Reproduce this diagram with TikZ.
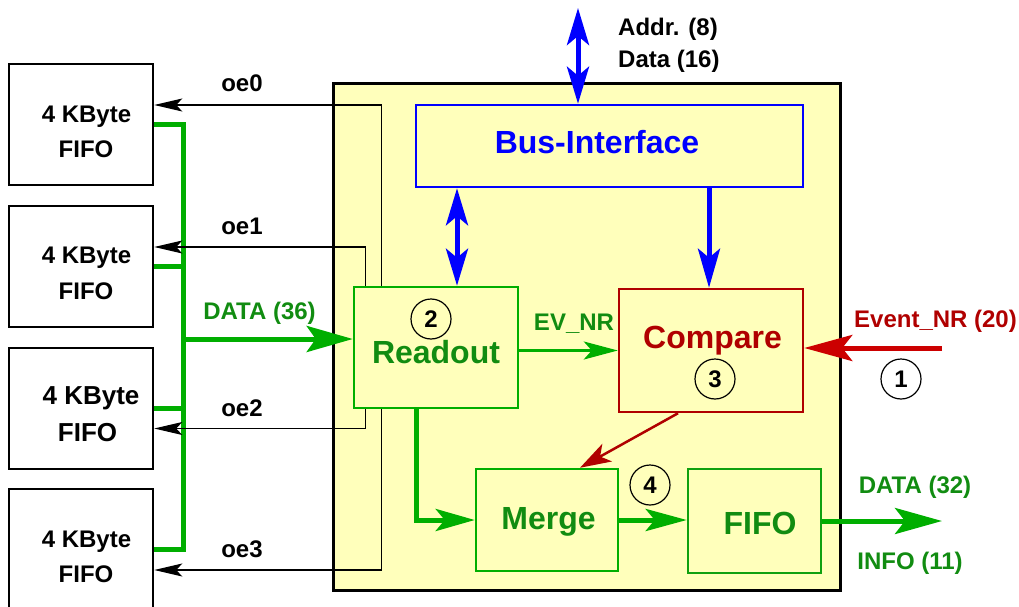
\documentclass[tikz,border=0pt]{standalone}
\usepackage{fontspec}
\setmainfont{Liberation Sans}
\usetikzlibrary{arrows.meta}
\definecolor{bg}{HTML}{FFFFBB}
\definecolor{lgreen}{HTML}{00AE00}
\definecolor{tgreen}{HTML}{118C11}
\definecolor{bgreen}{HTML}{0FA00F}
\definecolor{dred}{HTML}{B00000}
\definecolor{bred}{HTML}{CC0000}
\definecolor{bblue}{HTML}{0000FF}
\begin{document}
\begin{tikzpicture}[x=1pt,y=-1pt,
  font=\fontsize{24}{28}\selectfont\bfseries,
  txt/.style={anchor=base,inner sep=0pt},
  bigtxt/.style={anchor=base,inner sep=0pt,font=\fontsize{32}{36}\selectfont\bfseries},
  fifobox/.style={draw=black,line width=2.5pt,minimum width=144pt,minimum height=121pt,inner sep=0pt,fill=white},
  blockbox/.style={draw,line width=2.5pt,fill=bg,inner sep=0pt},
  num/.style={circle,draw=black,line width=1.2pt,minimum size=40pt,inner sep=0pt},
  oe/.style={draw=black,line width=1.1pt,-{Stealth[length=28pt,width=13pt,inset=6pt]}},
  gbus/.style={draw=lgreen,line width=5pt,line join=miter},
  garrow/.style={draw=lgreen,line width=5pt,line join=miter,-{Stealth[length=46pt,width=26pt,inset=9pt]}},
  gthin/.style={draw=lgreen,line width=2.5pt,-{Stealth[length=34pt,width=18pt,inset=8pt]}},
  barrow/.style={draw=bblue,line width=5pt,{Stealth[length=37pt,width=22pt,inset=9pt]}-{Stealth[length=37pt,width=22pt,inset=9pt]}},
  bsingle/.style={draw=bblue,line width=5pt,-{Stealth[length=39pt,width=22pt,inset=9pt]}},
]
\useasboundingbox (0,0) rectangle (1019,607);

% main chip
\node[draw=black,line width=3pt,fill=bg,minimum width=507pt,minimum height=506pt,inner sep=0pt] (chip) at (586.5,337) {};

% external FIFOs
\node[fifobox] (f0) at (81,124.5) {};
\node[fifobox] (f1) at (81,266.5) {};
\node[fifobox] (f2) at (81,408.5) {};
\node[fifobox] (f3) at (81,549.5) {};
\node[txt] (f0a) at (86.5,122) {4 KByte};
\node[txt] (f0b) at (86,157) {FIFO};
\node[txt] (f1a) at (86.5,263) {4 KByte};
\node[txt] (f1b) at (86,299) {FIFO};
\node[txt,font=\fontsize{26}{30}\selectfont\bfseries] (f2a) at (91,404) {4 KByte};
\node[txt,font=\fontsize{26}{30}\selectfont\bfseries] (f2b) at (87.5,441) {FIFO};
\node[txt] (f3a) at (86.5,547) {4 KByte};
\node[txt] (f3b) at (86,582) {FIFO};

% inner blocks
\node[blockbox,draw=bblue,minimum width=387pt,minimum height=82pt] (bus) at (609.5,146) {};
\node[bigtxt,text=bblue] (bust) at (597,153) {Bus-Interface};
\node[blockbox,draw=lgreen,minimum width=164pt,minimum height=121pt] (readout) at (436,347.5) {};
\node[bigtxt,text=tgreen] (readt) at (436,363) {Readout};
\node[blockbox,draw=dred,minimum width=184pt,minimum height=123pt] (compare) at (711,350.5) {};
\node[bigtxt,text=dred] (compt) at (712.5,348) {Compare};
\node[blockbox,draw=lgreen,minimum width=142pt,minimum height=102pt] (merge) at (547,520) {};
\node[bigtxt,text=tgreen] (merget) at (548.5,529) {Merge};
\node[blockbox,draw=bgreen,minimum width=133pt,minimum height=104pt] (fifo) at (754.5,521) {};
\node[bigtxt,text=tgreen] (fifot) at (760,534) {FIFO};

% numbered circles
\node[num] (n1) at (901,379) {1};
\node[num] (n2) at (431,319) {2};
\node[num] (n3) at (715,379) {3};
\node[num] (n4) at (650,485) {4};

% green data bus
\coordinate (jt) at (183,124.5);
\coordinate (jb) at (183,549.5);
\draw[gbus] (f0.east) -- (jt) -- (jb) -- (f3.east);
\draw[gbus] (f1.east) -- (f1.east -| jt);
\draw[gbus] (f2.east) -- (f2.east -| jt);
\coordinate (din) at ([yshift=8.5pt]readout.west);
\draw[garrow] (jt |- din) -- (din);
\node[txt,text=tgreen] (d36) at (259.5,319) {DATA (36)};

% output enables
\coordinate (r0) at ([xshift=29pt]readout.north west);
\coordinate (r1) at ([xshift=13pt]readout.north west);
\coordinate (r2) at ([xshift=13pt]readout.south west);
\coordinate (r3) at ([xshift=29pt]readout.south west);
\draw[oe] (r0) |- ([yshift=19.5pt]f0.east);
\draw[oe] (r1) |- ([yshift=19.5pt]f1.east);
\draw[oe] (r2) |- ([yshift=-20pt]f2.east);
\draw[oe] (r3) |- ([yshift=-20.5pt]f3.east);
\node[txt] (oe0) at (242,92) {oe0};
\node[txt] (oe1) at (242,234) {oe1};
\node[txt] (oe2) at (242,416) {oe2};
\node[txt] (oe3) at (242,557) {oe3};

% bus interface connections
\coordinate (ext) at (578,8);
\draw[barrow] (ext) -- (ext |- bus.north);
\node[txt,anchor=base west] (addr) at (618,36) {Addr. (8)};
\node[txt,anchor=base west] (datab) at (618,68) {Data (16)};
\coordinate (rb) at ([xshift=21pt]readout.north);
\draw[barrow] (rb |- bus.south) -- (rb);
\coordinate (cb) at ([xshift=-2pt]compare.north);
\draw[bsingle] (cb |- bus.south) -- (cb);

% readout -> compare
\draw[gthin] (readout.east |- compare.west) -- (compare.west);
\node[txt,text=tgreen] (evnr) at (574,330) {EV\_NR};

% event number in
\coordinate (evin) at (942,348);
\draw[draw=bred,line width=5pt,-{Stealth[length=48pt,width=26pt,inset=10pt]}] (evin) -- (evin -| compare.east);
\node[txt,text=dred] (evt) at (935.5,327) {Event\_NR (20)};

% compare -> merge
\draw[draw=dred,line width=2.5pt,-{Stealth[length=31pt,width=20pt,inset=8pt]}] ([xshift=-33pt]compare.south) -- ([xshift=33pt]merge.north);

% readout -> merge -> fifo -> out
\draw[draw=lgreen,line width=5pt,line join=miter,-{Stealth[length=39pt,width=22pt,inset=9pt]}] ([xshift=-20pt]readout.south) |- (merge.west);
\draw[draw=lgreen,line width=5pt,-{Stealth[length=41pt,width=22pt,inset=9pt]}] (merge.east) -- (merge.east -| fifo.west);
\coordinate (out) at (942,521);
\draw[draw=lgreen,line width=5pt,-{Stealth[length=47pt,width=26pt,inset=10pt]}] (fifo.east) -- (out);
\node[txt,text=tgreen] (d32) at (915,493) {DATA (32)};
\node[txt,text=tgreen] (info) at (910,569) {INFO (11)};
\end{tikzpicture}
\end{document}
